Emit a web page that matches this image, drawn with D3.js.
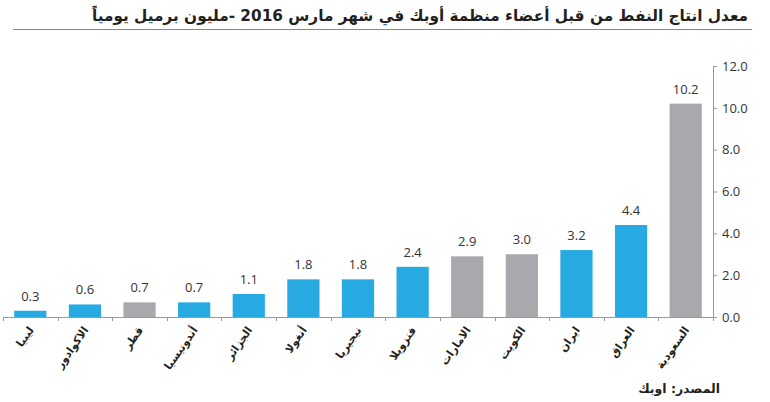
<!DOCTYPE html>
<html>
<head>
<meta charset="utf-8">
<script src="https://cdn.jsdelivr.net/npm/d3@7"></script>
<style>
  body { margin: 0; background: #fff; }
  svg { display: block; }
  .title { font-family: "DejaVu Sans", sans-serif; font-weight: bold; font-size: 17px; fill: #231f20; }
  .cat { font-family: "DejaVu Sans", sans-serif; font-weight: bold; font-size: 11px; fill: #231f20; }
  .val { font-family: "Open Sans", sans-serif; font-size: 13px; fill: #333; }
  .ytick { font-family: "Open Sans", sans-serif; font-size: 13px; fill: #333; }
  .source { font-family: "DejaVu Sans", sans-serif; font-weight: bold; font-size: 12.5px; fill: #231f20; }
</style>
</head>
<body>
<svg class="chart"></svg>
<script>
var WIDTH = 770;
var HEIGHT = 402;

var AXIS_X = 713;
var LEFT = 3;
var BASE_Y = 317;
var TOP_Y = 66;

var BLUE = "#27aae1";
var GREY = "#a7a9ac";

// countries, left to right as drawn
var countries = ["ليبيا", "الاكوادور", "قطر", "أندونيسيا", "الجزائر", "أنغولا", "نيجيريا",
                 "فنزويلا", "الامارات", "الكويت", "ايران", "العراق", "السعودية"];
var production = [0.3, 0.6, 0.7, 0.7, 1.1, 1.8, 1.8, 2.4, 2.9, 3.0, 3.2, 4.4, 10.2];
var gulf = [false, false, true, false, false, false, false, false, true, true, false, false, true];
var yTicks = [0, 2, 4, 6, 8, 10, 12];

var titleText = "معدل انتاج النفط من قبل أعضاء منظمة أوبك في شهر مارس 2016 -مليون برميل يومياً";
var sourceText = "المصدر: اوبك";

var svg = d3.select(".chart")
    .attr("width", WIDTH)
    .attr("height", HEIGHT);

// title + rule under it
var title = svg.append("text")
    .attr("class", "title")
    .attr("x", 748)
    .attr("y", 21)
    .attr("text-anchor", "end")
    .text(titleText);

// shrink the font so the title spans about 92..748 like the original
var want = 656;
var got = title.node().getComputedTextLength();
title.style("font-size", (17 * want / got).toFixed(2) + "px");

svg.append("line")
    .attr("x1", 13).attr("x2", 752)
    .attr("y1", 29.5).attr("y2", 29.5)
    .attr("stroke", "#888")
    .attr("stroke-width", 1);

var x = d3.scaleBand()
    .domain(countries)
    .range([LEFT, AXIS_X])
    .paddingInner(0.41)
    .paddingOuter(0.205);

var y = d3.scaleLinear()
    .domain([0, 12])
    .range([BASE_Y, TOP_Y]);

// bars
svg.selectAll("rect.bar")
    .data(countries)
    .enter()
    .append("rect")
    .attr("class", "bar")
    .attr("x", function(d) { return x(d); })
    .attr("width", x.bandwidth())
    .attr("y", function(d, i) { return y(production[i]); })
    .attr("height", function(d, i) { return BASE_Y - y(production[i]); })
    .attr("fill", function(d, i) { return gulf[i] ? GREY : BLUE; });

// value labels
svg.selectAll("text.val")
    .data(countries)
    .enter()
    .append("text")
    .attr("class", "val")
    .attr("x", function(d) { return x(d) + x.bandwidth() / 2; })
    .attr("y", function(d, i) { return y(production[i]) - 10; })
    .attr("text-anchor", "middle")
    .text(function(d, i) { return d3.format(".1f")(production[i]); });

// y axis on the right
var yAxis = d3.axisRight(y)
    .tickValues(yTicks)
    .tickFormat(d3.format(".1f"))
    .tickSize(4)
    .tickPadding(5);

var yg = svg.append("g")
    .attr("transform", "translate(" + AXIS_X + ",0)")
    .call(yAxis);
yg.select(".domain").attr("stroke", "#999").attr("d", "M0.5," + TOP_Y + "V" + BASE_Y);
yg.selectAll(".tick line").attr("stroke", "#999");
yg.selectAll(".tick text").attr("class", "ytick").attr("fill", null);

// x baseline with boundary ticks
var step = x.step();
var bounds = countries.map(function(d) { return x(d) - step * 0.205; }).concat([AXIS_X]);

svg.append("line")
    .attr("x1", LEFT).attr("x2", AXIS_X)
    .attr("y1", BASE_Y + 0.5).attr("y2", BASE_Y + 0.5)
    .attr("stroke", "#999");

svg.selectAll("line.xtick")
    .data(bounds)
    .enter()
    .append("line")
    .attr("class", "xtick")
    .attr("x1", function(d) { return Math.round(d) + 0.5; })
    .attr("x2", function(d) { return Math.round(d) + 0.5; })
    .attr("y1", BASE_Y)
    .attr("y2", BASE_Y + 4)
    .attr("stroke", "#999");

// rotated category labels
svg.selectAll("text.cat")
    .data(countries)
    .enter()
    .append("text")
    .attr("class", "cat")
    .attr("text-anchor", "end")
    .attr("transform", function(d) {
        var cx = x(d) + x.bandwidth() / 2 + 4;
        return "translate(" + cx + "," + (BASE_Y + 13) + ") rotate(-55)";
    })
    .text(function(d) { return d; });

svg.append("text")
    .attr("class", "source")
    .attr("x", 720)
    .attr("y", 393)
    .attr("text-anchor", "end")
    .text(sourceText);
</script>
</body>
</html>
